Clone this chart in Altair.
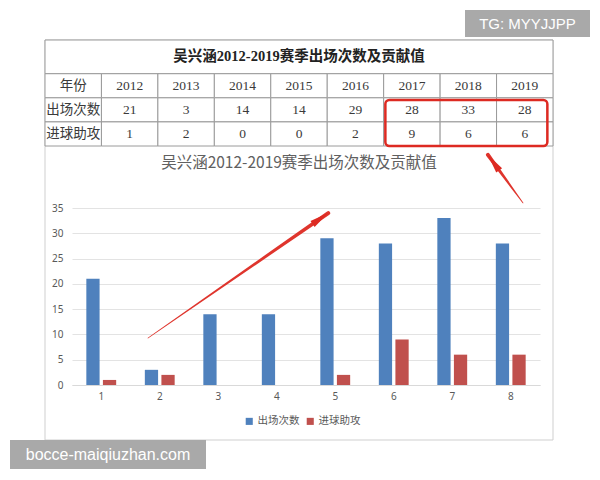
import math
import altair as alt
import pandas as pd

# ---------------- data ----------------
years = ["2012", "2013", "2014", "2015", "2016", "2017", "2018", "2019"]
seasons = ["1", "2", "3", "4", "5", "6", "7", "8"]
appearances = [21, 3, 14, 14, 29, 28, 33, 28]
goals_assists = [1, 2, 0, 0, 2, 9, 6, 6]
series_names = ["出场次数", "进球助攻"]
title_text = "吴兴涵2012-2019赛季出场次数及贡献值"
table_header = "年份"
highlight_years = ["2017", "2018", "2019"]

# annotation arrows (x in season-index units, y in value units)
arrow_ids = ["a1", "a2"]
arrow_tail_x = [1.30, 7.71]
arrow_tail_y = [9.3, 36.0]
arrow_head_x = [4.38, 7.11]
arrow_head_y = [34.0, 45.5]

watermarks = ["TG: MYYJJPP", "bocce-maiqiuzhan.com"]

# ---------------- layout constants ----------------
W, H = 468, 177
PX_X = W / 8.0
PX_Y = H / 35.0
TITLE_H = 1.4
TBL_X = [-27, 481]
TBL_Y = [-168, -62]
RED = "#dd2a22"
GRAY_TXT = "#595959"
CJK = "'Noto Sans CJK SC', 'Noto Sans', sans-serif"
SERIF = "'Liberation Serif', 'Noto Sans CJK SC', serif"

one = pd.DataFrame({"a": [0]})

# ---------------- bar data ----------------
bar_df = pd.DataFrame(
    [{"season": s, "series": series_names[0], "value": v} for s, v in zip(seasons, appearances)]
    + [{"season": s, "series": series_names[1], "value": v} for s, v in zip(seasons, goals_assists)]
)

# ---------------- table data ----------------
rows = [(table_header, years), (series_names[0], appearances), (series_names[1], goals_assists)]
cells = [{"x0": 0, "x1": 9, "y0": 0, "y1": TITLE_H, "text": title_text, "kind": "title"}]
for r, (label, vals) in enumerate(rows):
    cells.append({"x0": 0, "x1": 1, "y0": TITLE_H + r, "y1": TITLE_H + r + 1,
                  "text": label, "kind": "label"})
    for c, v in enumerate(vals):
        cells.append({"x0": c + 1, "x1": c + 2, "y0": TITLE_H + r, "y1": TITLE_H + r + 1,
                      "text": str(v), "kind": "value"})
cell_df = pd.DataFrame(cells)

c0 = 1 + years.index(highlight_years[0])
c1 = 1 + years.index(highlight_years[-1]) + 1
hl_df = pd.DataFrame([{"x0": c0 + 0.03, "x1": c1 - 0.1, "y0": TITLE_H + 1.09, "y1": TITLE_H + 3.0}])

xs_t = alt.Scale(domain=[0, 9], range=TBL_X, nice=False, zero=False)
ys_t = alt.Scale(domain=[0, TITLE_H + 3], range=TBL_Y, nice=False, zero=False)

# ---------------- arrow data ----------------
trail_rows, head_rows = [], []
for aid, tx, ty, hx, hy in zip(arrow_ids, arrow_tail_x, arrow_tail_y, arrow_head_x, arrow_head_y):
    trail_rows.append({"id": aid, "t": 0, "x": tx, "y": ty})
    trail_rows.append({"id": aid, "t": 1, "x": hx, "y": hy})
    dx = (hx - tx) * PX_X
    dy = -(hy - ty) * PX_Y
    ang = math.degrees(math.atan2(dx, -dy)) % 360
    head_rows.append({"id": aid, "x": hx, "y": hy, "angle": ang})
trail_df = pd.DataFrame(trail_rows)
head_df = pd.DataFrame(head_rows)
xs_a = alt.Scale(domain=[0, 8], nice=False, zero=False)
ys_a = alt.Scale(domain=[0, 35], nice=False, zero=False)

# ---------------- layers ----------------
frame = alt.Chart(one).mark_rect(fill="white", fillOpacity=0, stroke="#cfcfcf", strokeWidth=1).encode(
    x=alt.value(TBL_X[0]), x2=alt.value(TBL_X[1]), y=alt.value(TBL_Y[0]), y2=alt.value(232)
)

bars = alt.Chart(bar_df).mark_bar().encode(
    x=alt.X("season:N", sort=seasons,
            scale=alt.Scale(paddingInner=0.49, paddingOuter=0.245),
            axis=alt.Axis(title=None, orient="bottom", labelAngle=0, ticks=False, grid=False,
                          domainColor="#d9d9d9", labelColor=GRAY_TXT, labelFontSize=10,
                          labelFont="Noto Sans", labelPadding=6)),
    xOffset=alt.XOffset("series:N", sort=series_names, scale=alt.Scale(paddingInner=0.2)),
    y=alt.Y("value:Q", scale=alt.Scale(domain=[0, 35], nice=False),
            axis=alt.Axis(title=None, orient="left", values=list(range(0, 36, 5)), ticks=False,
                          domain=False, grid=True, gridColor="#e3e3e3", labelColor=GRAY_TXT,
                          labelFontSize=10, labelFont="Noto Sans", labelPadding=9)),
    color=alt.Color("series:N", sort=series_names,
                    scale=alt.Scale(domain=series_names, range=["#4F81BD", "#C0504D"]),
                    legend=alt.Legend(title=None, orient="none", direction="horizontal",
                                      legendX=172, legendY=208, symbolType="square",
                                      symbolSize=50, symbolStrokeWidth=0, labelFont=CJK,
                                      labelFontSize=10.5, labelColor=GRAY_TXT, labelOffset=3,
                                      columnPadding=5)),
)

tbl_rect = alt.Chart(cell_df).mark_rect(fill="white", stroke="#9a9a9a", strokeWidth=1).encode(
    x=alt.X("x0:Q", scale=xs_t, axis=None), x2="x1:Q",
    y=alt.Y("y0:Q", scale=ys_t, axis=None), y2="y1:Q",
)

tbl_text_base = alt.Chart(cell_df).transform_calculate(
    xm="(datum.x0 + datum.x1) / 2", ym="(datum.y0 + datum.y1) / 2"
)
tbl_title = tbl_text_base.transform_filter("datum.kind == 'title'").mark_text(
    font=SERIF, fontSize=14.5, fontWeight="bold", color="#222222", baseline="middle"
).encode(x=alt.X("xm:Q", scale=xs_t, axis=None), y=alt.Y("ym:Q", scale=ys_t, axis=None), text="text:N")
tbl_text = tbl_text_base.transform_filter("datum.kind != 'title'").mark_text(
    font=SERIF, fontSize=13.5, color="#3a3a3a", baseline="middle"
).encode(x=alt.X("xm:Q", scale=xs_t, axis=None), y=alt.Y("ym:Q", scale=ys_t, axis=None), text="text:N")

hl_box = alt.Chart(hl_df).mark_rect(fill="white", fillOpacity=0, stroke=RED, strokeWidth=2.5,
                                     cornerRadius=4).encode(
    x=alt.X("x0:Q", scale=xs_t, axis=None), x2="x1:Q",
    y=alt.Y("y0:Q", scale=ys_t, axis=None), y2="y1:Q",
)

chart_title = alt.Chart(one).mark_text(
    text=title_text, font=CJK, fontSize=15.5, color="#606060", baseline="middle", align="center"
).encode(x=alt.value(227), y=alt.value(-45))

trail = alt.Chart(trail_df).mark_trail(color=RED, opacity=0.95).encode(
    x=alt.X("x:Q", scale=xs_a, axis=None),
    y=alt.Y("y:Q", scale=ys_a, axis=None),
    detail="id:N",
    order="t:Q",
    size=alt.Size("t:Q", scale=alt.Scale(domain=[0, 1], range=[0.8, 4.0]), legend=None),
)

heads = alt.Chart(head_df).mark_point(
    filled=True, color=RED, opacity=1, size=300,
    shape="M0,0 L0.42,2.2 L-0.42,2.2 Z"
).encode(
    x=alt.X("x:Q", scale=xs_a, axis=None),
    y=alt.Y("y:Q", scale=ys_a, axis=None),
    angle=alt.Angle("angle:Q", scale=None),
)

wm1_box = alt.Chart(one).mark_rect(fill="#a9a9a9").encode(
    x=alt.value(393), x2=alt.value(518), y=alt.value(-198), y2=alt.value(-171))
wm1_txt = alt.Chart(one).mark_text(text=watermarks[0], font="'Liberation Sans', sans-serif",
                                    fontSize=15, color="white", align="center", baseline="middle").encode(
    x=alt.value(455.5), y=alt.value(-184.5))
wm2_box = alt.Chart(one).mark_rect(fill="#a9a9a9").encode(
    x=alt.value(-62), x2=alt.value(134), y=alt.value(232), y2=alt.value(261))
wm2_txt = alt.Chart(one).mark_text(text=watermarks[1], font="'Liberation Sans', sans-serif",
                                    fontSize=16, color="white", align="center", baseline="middle").encode(
    x=alt.value(36), y=alt.value(246.5))

chart = alt.layer(
    frame, bars, tbl_rect, tbl_title, tbl_text, hl_box, chart_title, trail, heads,
    wm1_box, wm1_txt, wm2_box, wm2_txt
).resolve_scale(
    x="independent", y="independent", color="independent", size="independent"
).resolve_axis(
    x="independent", y="independent"
).properties(
    width=W, height=H,
    padding={"left": 64, "top": 200, "right": 50, "bottom": 85},
    autosize=alt.AutoSizeParams(type="none"),
    background="white",
).configure_view(stroke=None)

chart.save("out.html", embed_options={"renderer": "svg", "actions": False})
